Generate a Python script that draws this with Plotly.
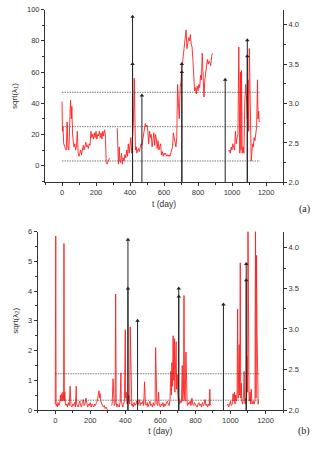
import plotly.graph_objects as go

# ---------------- data ----------------
# panel (a): sqrt(lambda_1)
a_days = [0, 3, 6, 10, 15, 20, 25, 30, 35, 40, 45, 50, 55, 58, 62, 65, 70, 75, 80, 85,
          90, 95, 100, 105, 110, 115, 120, 125, 130, 135, 140, 145, 150, 155, 160, 165,
          170, 175, 180, 185, 190, 195, 200, 205, 210, 215, 220, 225, 230, 235, 240, 245,
          250, 255, 260, 265, 270, 275, 280,
          None,
          325, 328, 332, 337, 340, 345, 350, 355, 360, 365, 370, 375, 380, 385, 390, 395,
          400, 405, 410, 415, 420, 425, 428, 432, 437, 440, 445, 450, 455, 460, 465, 470,
          475, 480, 485, 490, 495, 500, 505, 510, 515, 520, 525, 530, 535, 540, 545, 550,
          555, 560, 565, 570, 575, 580, 585, 590, 595, 600, 605, 610, 615, 620, 625, 630,
          635, 640, 645, 650, 655, 660, 665, 670, 675, 680, 685, 690, 695, 700, 705, 710,
          715, 720, 725, 730, 735, 740, 745, 750, 755, 760, 765, 770, 775, 780, 785, 790,
          795, 800, 805, 810, 815, 820, 825, 830, 835, 840, 845, 850, 855, 860, 865, 870,
          875, 880, 885,
          None,
          980, 985, 990, 995, 1000, 1005, 1010, 1015, 1020, 1025, 1030, 1035, 1040, 1043,
          1046, 1050, 1053, 1056, 1060, 1065, 1070, 1075, 1080, 1085, 1090, 1095, 1098,
          1102, 1106, 1110, 1113, 1117, 1120, 1125, 1130, 1135, 1140, 1145, 1150, 1153,
          1157, 1160]
a_vals = [41, 22, 25, 14, 12, 11, 10, 28, 12, 10, 25, 42, 30, 38, 20, 15, 12, 14, 10, 12,
          22, 8, 6, 8, 10, 7, 11, 13, 10, 14, 15, 12, 13, 11, 14, 13,
          22, 18, 20, 17, 21, 18, 22, 17, 20, 19, 22, 18, 21, 17, 22, 19,
          23, 20, 2, 1, 2, 3, 5,
          None,
          24, 2, 1, 12, 3, 2, 8, 1, 5, 3, 7, 5, 10, 6, 14, 8,
          12, 18, 8, 15, 28, 56, 20, 10, 12, 8, 10, 11, 9, 12, 14, 13,
          16, 20, 22, 27, 25, 26, 22, 14, 22, 18, 20, 12, 16, 21, 13, 20,
          17, 11, 16, 10, 12, 14, 7, 9, 6, 8, 7, 8, 6, 7, 6, 7,
          6, 8, 9, 12, 21, 18, 14, 12, 18, 52, 40, 30, 50, 54, 62, 68,
          72, 80, 84, 87, 75, 78, 82, 80, 84, 78, 76, 68, 60, 48, 50, 46,
          51, 48, 52, 50, 58, 55, 72, 50, 44, 55, 60, 64, 68, 65, 67, 66,
          64, 70, 72,
          None,
          9, 10, 8, 12, 10, 14, 12, 10, 22, 14, 18, 20, 76, 20,
          8, 60, 10, 61, 8, 12, 8, 40, 52, 45, 30, 55, 22,
          75, 40, 10, 3, 8, 14, 12, 18, 16, 22, 25, 55, 30,
          35, 28]

# panel (b): sqrt(lambda_2)
b_days = [0, 2, 3, 5, 8, 12, 16, 20, 25, 30, 33, 36, 40, 44, 48, 50, 52, 55, 58, 62,
          66, 70, 75, 80, 85, 87, 90, 95, 100, 105, 110, 115, 120, 122, 125, 130, 135,
          140, 145, 150, 155, 160, 165, 170, 175, 180, 185, 190, 195, 200, 205, 210, 215,
          220, 225, 230, 235, 240, 245, 250, 253, 256, 260, 265, 270, 275, 280, 285, 290,
          295, 300,
          None,
          320, 325, 330, 333, 337, 342, 345, 348, 352, 356, 360, 365, 370, 375, 377, 380,
          385, 390, 395, 400, 402, 405, 410, 415, 420, 425, 428, 430, 433, 437, 440, 445,
          450, 455, 460, 465, 470, 475, 480, 485, 490, 495, 500, 505, 510, 512, 515, 520,
          525, 530, 535, 540, 545, 550, 555, 560, 565, 570, 573, 576, 580, 585, 590, 593,
          596, 600, 605, 610, 615, 620, 625, 630, 635, 640, 645, 650, 655, 660, 663, 666,
          670, 673, 676, 680, 683, 686, 690, 693, 696, 700, 703, 706, 710, 715, 720, 725,
          728, 732, 735, 738, 742, 746, 750, 753, 756, 760, 765, 770, 775, 780, 785, 790,
          795, 800, 805, 810, 815, 820, 825, 830, 835, 840, 845, 850, 855, 860, 865, 870,
          875, 880, 882, 885, 890,
          None,
          980, 985, 990, 995, 1000, 1005, 1010, 1015, 1020, 1023, 1026, 1030, 1035, 1038,
          1041, 1044, 1047, 1050, 1053, 1056, 1059, 1062, 1065, 1070, 1075, 1078, 1081,
          1085, 1088, 1092, 1095, 1098, 1100, 1102, 1104, 1106, 1108, 1112, 1116, 1119,
          1122, 1126, 1130, 1135, 1140, 1143, 1146, 1149, 1152, 1155, 1158, 1160]
b_vals = [0.2, 3.5, 5.85, 0.15, 0.2, 0.1, 0.25, 0.15, 0.2, 0.5, 0.3, 0.55, 0.3, 0.6, 0.35, 5.6, 0.3, 0.6, 0.25, 0.15,
          0.2, 0.1, 0.25, 0.15, 0.8, 0.2, 0.15, 0.1, 0.2, 0.15, 0.25, 0.1, 0.8, 0.2, 0.15, 0.1, 0.2,
          0.3, 0.15, 0.1, 0.25, 0.35, 0.15, 0.2, 0.4, 0.15, 0.1, 0.2, 0.15, 0.25, 0.1, 0.2, 0.15,
          0.1, 0.2, 0.15, 0.25, 0.3, 0.5, 0.65, 0.4, 0.55, 0.3, 0.2, 0.15, 0.1, 0.15, 0.05, 0.1,
          0.03, 0.0,
          None,
          0.15, 0.2, 1.05, 0.3, 0.15, 0.2, 3.9, 0.25, 0.1, 0.2, 0.15, 0.1, 0.25, 1.25, 0.3, 0.15,
          0.1, 0.2, 0.3, 2.7, 0.4, 0.6, 0.2, 0.3, 0.5, 0.2, 2.8, 1.7, 0.3, 0.15, 0.2, 0.1,
          0.25, 0.15, 0.2, 0.3, 0.15, 0.2, 0.35, 0.15, 0.25, 0.2, 0.3, 0.15, 0.95, 0.4, 0.2, 0.15,
          0.25, 0.1, 0.2, 0.3, 0.15, 0.2, 0.1, 0.25, 0.15, 0.2, 2.1, 0.3, 0.2, 0.15, 0.6, 0.2,
          0.15, 0.1, 0.2, 0.15, 0.25, 0.1, 0.2, 0.15, 0.25, 0.3, 0.2, 0.15, 0.35, 1.3, 0.5, 1.6,
          0.8, 2.5, 1.0, 2.4, 0.6, 1.8, 2.3, 0.7, 1.2, 0.5, 0.3, 0.4, 0.2, 0.3, 0.25, 1.5,
          0.3, 0.6, 3.85, 0.4, 0.3, 1.95, 0.3, 0.2, 0.15, 0.25, 0.2, 0.3, 0.15, 0.4, 0.2, 0.15,
          0.25, 0.2, 0.15, 0.1, 0.2, 0.25, 0.15, 0.2, 0.1, 0.25, 0.15, 0.2, 0.35, 0.15, 0.2, 0.1,
          0.2, 0.15, 0.7, 0.2, 0.15,
          None,
          0.15, 0.2, 0.1, 0.25, 0.3, 0.15, 0.2, 0.55, 0.3, 0.6, 0.2, 0.5, 0.3, 0.6,
          3.4, 0.4, 1.0, 2.2, 0.5, 4.95, 0.4, 0.9, 0.3, 0.2, 0.5, 1.3, 0.3,
          0.2, 0.4, 0.3, 1.8, 0.6, 6.5, 0.8, 6.5, 0.5, 0.3, 0.6, 0.2, 0.7,
          0.3, 0.2, 0.3, 0.2, 0.3, 6.5, 0.4, 5.2, 2.6, 0.3, 0.2, 0.3]

# black stems (right axis)
stem_days = [415, 415, 470, 705, 705, 960, 1090, 1090]
stem_vals = [4.1, 3.5, 3.1, 3.5, 3.4, 3.3, 3.8, 3.6]
stem_base = 2.0

# dashed threshold levels
a_levels = [47, 25, 3]
b_levels = [1.22, 0.33]
level_span = [0, 1165]

x_ticks = [0, 200, 400, 600, 800, 1000, 1200]

# ---------------- figure ----------------
W, H = 319, 450
FONT = "Liberation Sans"
fig = go.Figure()

def add_panel(xa, ya, ya2, days, vals, levels):
    fig.add_trace(go.Scatter(x=days, y=vals, mode="lines", xaxis=xa, yaxis=ya,
                             line=dict(color="#ff2020", width=0.9), connectgaps=False,
                             showlegend=False, hoverinfo="skip"))
    for lv in levels:
        fig.add_trace(go.Scatter(x=level_span, y=[lv, lv], mode="lines", xaxis=xa, yaxis=ya,
                                 line=dict(color="#444444", width=0.7, dash="1.5px,1px"),
                                 showlegend=False, hoverinfo="skip"))
    sx, sy = [], []
    for d, v in zip(stem_days, stem_vals):
        sx += [d, d, None]
        sy += [stem_base, v, None]
    fig.add_trace(go.Scatter(x=sx, y=sy, mode="lines", xaxis=xa, yaxis=ya2,
                             line=dict(color="#222222", width=1.0),
                             showlegend=False, hoverinfo="skip"))
    fig.add_trace(go.Scatter(x=stem_days, y=stem_vals, mode="markers", xaxis=xa, yaxis=ya2,
                             marker=dict(symbol="triangle-up", size=4, color="#222222"),
                             showlegend=False, hoverinfo="skip", cliponaxis=False))

add_panel("x", "y", "y2", a_days, a_vals, a_levels)
add_panel("x2", "y3", "y4", b_days, b_vals, b_levels)

axis_common = dict(showline=True, linecolor="#333333", linewidth=1, ticks="outside",
                   ticklen=3, tickcolor="#333333", tickfont=dict(size=7.5, color="#333333", family=FONT),
                   showgrid=False, zeroline=False)
minor = dict(ticks="outside", ticklen=2, tickcolor="#333333", showgrid=False)

def px(v):
    return v / W

def py(v):
    return 1 - v / H

fig.update_layout(
    width=W, height=H, margin=dict(l=0, r=0, t=0, b=0),
    paper_bgcolor="white", plot_bgcolor="white",
    font=dict(family=FONT, size=7.5, color="#333333"),
    xaxis=dict(domain=[px(45), px(283)], anchor="y", range=[-100, 1300], tickvals=x_ticks,
               minor=dict(dtick=100, **minor),
               title=dict(text="t (day)", font=dict(size=8.5, family=FONT), standoff=4), **axis_common),
    yaxis=dict(domain=[py(182), py(5.7)], anchor="x", range=[-10.7, 100], dtick=20,
               minor=dict(dtick=10, **minor),
               title=dict(text="sqrt(λ<sub>1</sub>)", font=dict(size=8, family=FONT), standoff=8),
               **axis_common),
    yaxis2=dict(domain=[py(182), py(5.7)], anchor="x", overlaying="y", side="right",
                range=[2.0, 4.19], dtick=0.5, tickformat=".1f",
                minor=dict(dtick=0.25, **minor), **axis_common),
    xaxis2=dict(domain=[px(37.7), px(283)], anchor="y3", range=[-100, 1300], tickvals=x_ticks,
                minor=dict(dtick=100, **minor),
                title=dict(text="t (day)", font=dict(size=8.5, family=FONT), standoff=4), **axis_common),
    yaxis3=dict(domain=[py(414.3), py(232.3)], anchor="x2", range=[0, 6], dtick=1,
                minor=dict(dtick=0.5, **minor),
                title=dict(text="sqrt(λ<sub>2</sub>)", font=dict(size=8, family=FONT), standoff=8),
                **axis_common),
    yaxis4=dict(domain=[py(414.3), py(232.3)], anchor="x2", overlaying="y3", side="right",
                range=[2.0, 4.2], dtick=0.5, tickformat=".1f",
                minor=dict(dtick=0.25, **minor), **axis_common),
    annotations=[
        dict(text="(a)", x=px(312), y=py(209), xref="paper", yref="paper", showarrow=False,
             font=dict(family="Liberation Serif", size=10, color="#222222")),
        dict(text="(b)", x=px(312), y=py(444), xref="paper", yref="paper", showarrow=False,
             font=dict(family="Liberation Serif", size=10, color="#222222")),
    ],
)

fig.write_html("out.html")
